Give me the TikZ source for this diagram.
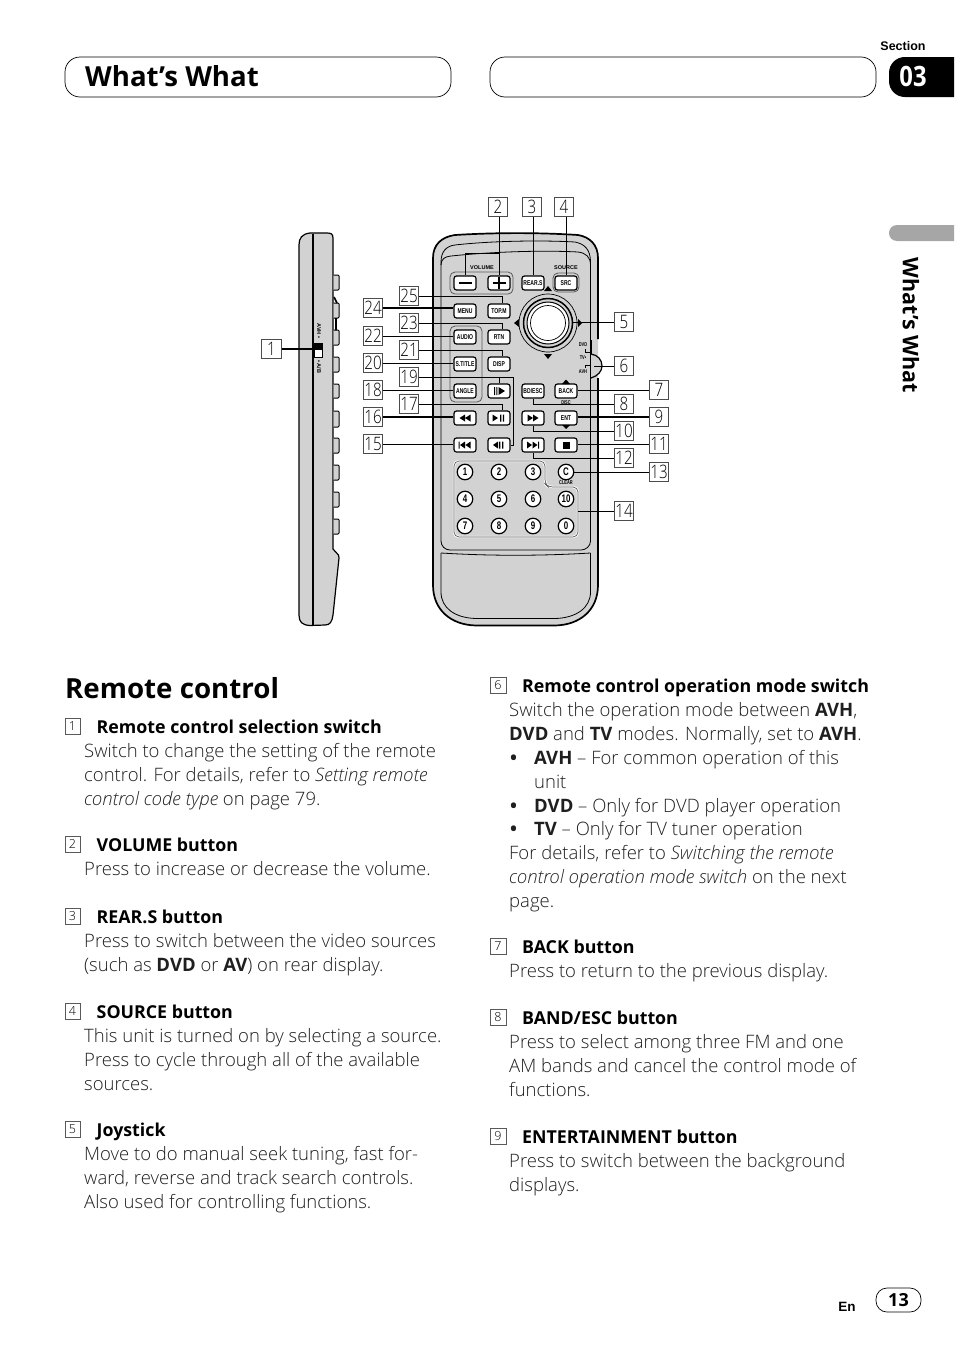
\documentclass[tikz,border=0pt]{standalone}
\usepackage{fontspec}
\setmainfont{Open Sans}[UprightFont=* Light,ItalicFont=* Light Italic,BoldFont=* Bold,BoldItalicFont=* Bold Italic]
\newfontfamily\boldf{Open Sans}[UprightFont=* Bold]
\newfontfamily\cond{Liberation Sans}[BoldFont=*,UprightFont=* Bold]
\usetikzlibrary{calc}
\definecolor{body}{HTML}{D2D2D2}
\newcounter{tln}
\newcommand{\tl}[3]{\stepcounter{tln}\node[txt,name=t\arabic{tln}] at (#1,#2+1) {#3};}
\newcommand{\hl}[4]{\stepcounter{tln}\node[nbox,name=n\arabic{tln}] at (#1,#2-6) {#3};\node[txt,font=\boldf\fontsize{17.8}{19}\selectfont,text=black,name=t\arabic{tln}] at (#1+24,#2+1) {#4};}
\newcommand{\bt}[1]{\scalebox{.72}[1]{#1}}
\tikzset{
 txt/.style={anchor=base west,inner sep=0pt,font=\fontsize{18.5}{19}\selectfont,text=black!88},
 nbox/.style={draw=black!65,line width=.5pt,minimum width=15.5pt,minimum height=15.5pt,inner sep=0pt,font=\fontsize{12.5}{12}\selectfont},
 lab/.style={draw=black!70,line width=.6pt,fill=white,minimum width=19.5pt,minimum height=19.5pt,inner sep=0pt,font=\fontsize{18.5}{19}\selectfont},
 btn/.style={draw=black,line width=1.2pt,rounded corners=2.5pt,fill=white,minimum width=22pt,minimum height=14pt,inner sep=0pt,font=\cond\fontsize{7}{7}\selectfont},
 num/.style={circle,draw=black,line width=1.2pt,fill=white,minimum size=15.5pt,inner sep=0pt,font=\cond\fontsize{11}{11}\selectfont},
 con/.style={draw=black,line width=.8pt},
 conb/.style={draw=black,line width=1.6pt},
 grp/.style={draw=black!65,line width=.8pt,rounded corners=5pt},
 rl/.style={draw=black,line width=.8pt},
 tiny/.style={inner sep=0pt,font=\cond\fontsize{5.5}{5}\selectfont},
 tri/.style={fill=black,draw=none},
}
\begin{document}
\begin{tikzpicture}[x=1pt,y=-1pt]
\useasboundingbox (0,0) rectangle (954,1352);
% header
\draw[line width=.7pt,rounded corners=15pt] (65,57) rectangle (451,97);
\draw[line width=.7pt,rounded corners=15pt] (490,57) rectangle (876,97);
\node[anchor=base west,inner sep=0pt,font=\boldf\fontsize{27.6}{28}\selectfont] (title) at (85,86) {What’s What};
\node[inner sep=0pt,font=\cond\fontsize{12.5}{13}\selectfont] (sect) at (903,46) {Section};
\fill[black] (954,57) -- (905,57) .. controls (896,57) and (889,64) .. (889,73) -- (889,81) .. controls (889,90) and (896,97) .. (905,97) -- (954,97) -- cycle;
\node[text=white,inner sep=0pt,font=\boldf\fontsize{28}{28}\selectfont] (secnum) at (913,76) {\scalebox{.85}[1]{03}};
\fill[black!35] (954,225) -- (897,225) .. controls (892,225) and (889,229) .. (889,233) .. controls (889,237) and (892,241) .. (897,241) -- (954,241) -- cycle;
\node[rotate=-90,inner sep=0pt,font=\boldf\fontsize{21.5}{22}\selectfont] (sidetitle) at (911,325.5) {What’s What};
% side view
\filldraw[fill=body,draw=black,line width=1.2pt] (333,238) .. controls (333,234) and (331,233) .. (327,233) -- (310,233) .. controls (302,234) and (299,238) .. (299,245) -- (299,615) .. controls (299,622) and (302,625) .. (310,625.5) -- (325,625) .. controls (330,625) and (332,622) .. (333,615) -- (339,558) -- (338.5,555) -- (333,549) -- cycle;
\draw[line width=1.2pt] (313,234) -- (313,625);
\foreach \ya/\yb in {275/290,303/318,330/345,357/372,384/398,411/427,438/453,465/480,492/507,519/534}{
 \filldraw[fill=body,draw=black,line width=1pt,rounded corners=1pt] (333.5,\ya) -- (339,\ya) -- (339,\yb) -- (333.5,\yb);}
\draw[line width=1.6pt] (334,297) -- (337,303) (336,318) -- (336,330);
\node[rotate=-90,tiny] (sideA) at (319,331) {AVH •};
\node[rotate=-90,tiny] (sideB) at (319,367) {• A/B};
\filldraw[fill=white,draw=black,line width=.7pt] (314,343) rectangle (322,357);
\fill[black] (314,343) rectangle (322,350);
\coordinate (swi) at (314,349);
% remote
\fill[body] (433,258) .. controls (433,245) and (441,237) .. (455,235) .. controls (495,232.5) and (540,232.5) .. (578,235) .. controls (590,237) and (598,245) .. (598,258) -- (598,585) .. controls (598,610) and (580,625) .. (555,625.5) -- (476,625.5) .. controls (451,625) and (433,610) .. (433,585) -- cycle;
\draw[draw=black,line width=1.7pt] (598,339) -- (598,258) .. controls (598,245) and (590,237) .. (578,235) .. controls (540,232.5) and (495,232.5) .. (455,235) .. controls (441,237) and (433,245) .. (433,258) -- (433,585) .. controls (433,610) and (451,625) .. (476,625.5) -- (555,625.5) .. controls (580,625) and (598,610) .. (598,585) -- (598,378);
\draw[rl] (441,541) -- (441,262) .. controls (441,252) and (446,246) .. (455,245) .. controls (490,241) and (540,240) .. (575,242) .. controls (585,244) and (590.5,250) .. (590.5,262) -- (590.5,340);
\draw[rl] (441,265) .. controls (441,259) and (445,256.5) .. (451,256) .. controls (490,252) and (540,250) .. (578,252) .. controls (586,253) and (590.5,257) .. (590.5,265);
\draw[rl] (590.5,378) -- (590.5,541);
\draw[rl] (441,541) .. controls (441,546) and (445,550) .. (450,550) -- (581,550) .. controls (586,550) and (590.5,546) .. (590.5,541);
\draw[rl] (441,553) .. controls (490,556) and (541,556) .. (590.5,553);
\draw[rl] (441,553) -- (441,592) .. controls (441,608) and (455,618) .. (476,618.5) -- (555,618.5) .. controls (576,618) and (590.5,608) .. (590.5,592) -- (590.5,553);
% mode switch
\draw[line width=1.6pt] (591,340) -- (591,378);
\filldraw[fill=body,draw=black,line width=1.2pt] (591,354) .. controls (598,355) and (602,360) .. (602,366) .. controls (602,371) and (598,376) .. (591,378);
\coordinate (msw) at (594,366);
\node[tiny] (mdvd) at (583,345) {\bt{DVD}};
\node[tiny] (mtv) at (583,358) {\bt{TV•}};
\node[tiny] (mavh) at (583,372) {\bt{AVH}};
\draw[line width=.5pt] (585,349) -- (585,352) -- (591,352) (585,368) -- (585,365) -- (591,365);
% groups
\draw[grp] (450,272) rectangle (513,294);
\draw[grp] (553,273) rectangle (579,292);
\draw[grp] (450,326) rectangle (482,402);
\node[tiny] (tvol) at (482,267.5) {VOLUME};
\node[tiny] (tsrc) at (566,267.5) {SOURCE};
% buttons
\node[btn] (minus) at (465,283) {\rule{13pt}{1.6pt}};
\node[btn] (plus) at (499,283) {\rule{13pt}{1.6pt}\llap{\rule[-5pt]{1.6pt}{11.6pt}\kern5.7pt}};
\node[btn] (rear) at (533,283) {\bt{REAR.S}};
\node[btn] (src) at (566,283) {\bt{SRC}};
\node[btn] (menu) at (465,311) {\bt{MENU}};
\node[btn] (topm) at (499,311) {\bt{TOP.M}};
\node[btn] (audio) at (465,337) {\bt{AUDIO}};
\node[btn] (rtn) at (499,337) {\bt{RTN}};
\node[btn] (stitle) at (465,364) {\bt{S.TITLE}};
\node[btn] (disp) at (499,364) {\bt{DISP}};
\node[btn] (angle) at (465,391) {\bt{ANGLE}};
\node[btn] (slowf) at (499,391) {};
\node[btn] (bdesc) at (533,391) {\bt{BD/ESC}};
\node[btn] (back) at (566,391) {\bt{BACK}};
\node[btn] (rew) at (465,418) {};
\node[btn] (play) at (499,418) {};
\node[btn] (ffw) at (533,418) {};
\node[btn] (ent) at (566,418) {\bt{ENT}};
\node[btn] (prev) at (465,445) {};
\node[btn] (slowb) at (499,445) {};
\node[btn] (next) at (533,445) {};
\node[btn] (stopb) at (566,445) {};
% button glyphs
\fill[tri] (494,387) rectangle (495,395) (496.3,387) rectangle (497.3,395) (498.5,387) -- (505,391) -- (498.5,395) -- cycle;
\fill[tri] (465,414.5) -- (459.5,418) -- (465,421.5) -- cycle (470.5,414.5) -- (465,418) -- (470.5,421.5) -- cycle;
\fill[tri] (492.5,414.5) -- (498,418) -- (492.5,421.5) -- cycle (500,414.5) rectangle (501.3,421.5) (502.8,414.5) rectangle (504.1,421.5);
\fill[tri] (527.5,414.5) -- (533,418) -- (527.5,421.5) -- cycle (533,414.5) -- (538.5,418) -- (533,421.5) -- cycle;
\fill[tri] (458.5,441.5) rectangle (459.7,448.5) (465,441.5) -- (460,445) -- (465,448.5) -- cycle (470.5,441.5) -- (465.5,445) -- (470.5,448.5) -- cycle;
\fill[tri] (498,441.5) -- (493,445) -- (498,448.5) -- cycle (499,441.5) rectangle (500.3,448.5) (502,441.5) rectangle (503.3,448.5);
\fill[tri] (527,441.5) -- (532,445) -- (527,448.5) -- cycle (532.5,441.5) -- (537.5,445) -- (532.5,448.5) -- cycle (538,441.5) rectangle (539.2,448.5);
\fill[tri] (562.5,441.5) rectangle (569.5,448.5);
% direction marks
\fill[tri] (566,379.5) -- (562,384) -- (570,384) -- cycle;
\fill[tri] (566,429) -- (562,425) -- (570,425) -- cycle;
\node[tiny] (tdisp) at (566,402.5) {\bt{DISC}};
% joystick
\fill[tri] (548,286) -- (544,291) -- (552,291) -- cycle (548,359) -- (544,354) -- (552,354) -- cycle (514,323) -- (519,319) -- (519,327) -- cycle (582,323) -- (578,319) -- (578,327) -- cycle;
\draw[line width=.7pt] (548,323) circle[radius=29];
\draw[line width=1.5pt] (548,323) circle[radius=24.5];
\filldraw[fill=white,draw=black,line width=1pt] (548,323) circle[radius=21];
\draw[line width=.7pt] (548,323) circle[radius=17.5];
\coordinate (joy) at (572.5,323);
% number panel
\draw[draw=white,line width=2.4pt,rounded corners=5pt] (454,461) -- (545,461) -- (545,484) -- (548,487) -- (578,487) -- (578,537) -- (454,537) -- cycle;
\draw[grp,line width=.7pt,rounded corners=5pt] (454,461) -- (545,461) -- (545,484) -- (548,487) -- (578,487) -- (578,537) -- (454,537) -- cycle;
\coordinate (pan) at (578,511);
\node[num] (b1) at (465,472) {\bt{1}};
\node[num] (b2) at (499,472) {\bt{2}};
\node[num] (b3) at (533,472) {\bt{3}};
\node[num] (bc) at (566,472) {\bt{C}};
\node[num] (b4) at (465,499) {\bt{4}};
\node[num] (b5) at (499,499) {\bt{5}};
\node[num] (b6) at (533,499) {\bt{6}};
\node[num] (b10) at (566,499) {\bt{10}};
\node[num] (b7) at (465,526) {\bt{7}};
\node[num] (b8) at (499,526) {\bt{8}};
\node[num] (b9) at (533,526) {\bt{9}};
\node[num] (b0) at (566,526) {\bt{0}};
\node[tiny] (tclr) at (566,483) {\bt{CLEAR}};
% labels
\foreach \n/\x/\y in {1/271.5/349,2/498/207,3/532/207,4/564/207,5/624/322,6/624/366,7/659/390,8/624/404,9/659/417,10/624/431,11/659/444,12/624/458,13/659/472,14/624/511,25/409/296,24/373/308,23/409/323,22/373/336,21/409/350,20/373/363,19/409/377,18/373/390,17/409/404,16/373/417,15/373/444}
 \node[lab] (l\n) at (\x,\y) {\scalebox{.82}[1]{\n}};
% connectors
\draw[conb] (l1) -- (swi);
\coordinate (jv) at (499,253);
\draw[con] (l2.south -| plus.north) -- (plus.north);
\draw[con] (jv) -| (minus.north);
\draw[con] (l3.south -| rear.north) -- (rear.north);
\draw[con] (l4.south -| src.north) -- (src.north);
\draw[con] (l5.west) -- (l5.west -| joy);
\draw[con] (l6.west) -- (msw);
\draw[con] (l7.west) -- (l7.west -| back.east);
\draw[con] (l8.west) -| (bdesc.south);
\draw[conb] (l9.west) -- (l9.west -| ent.east);
\draw[con] (l10.west) -| (ffw.south);
\draw[con] (l11.west) -- (l11.west -| stopb.east);
\draw[con] (l12.west) -| (next.south);
\draw[con] (l13.west) -- (l13.west -| bc.east);
\draw[con] (l14.west) -- (pan);
\coordinate (x25) at (502,296);
\draw[con] (l25.east) -| (x25 |- topm.north);
\draw[conb] (l24.east) -- (l24.east -| menu.west);
\draw[con] (l23.east) -| (x25 |- rtn.north);
\draw[con] (l22.east) -- (l22.east -| audio.west);
\draw[con] (l21.east) -| (x25 |- disp.north);
\draw[con] (l20.east) -- (l20.east -| stitle.west);
\coordinate (x19) at (513,377);
\draw[con] (l19.east) -- (x19) |- (slowb.east);
\draw[con] (slowf.north |- x19) -- (slowf.north);
\draw[con] (l18.east) -- (l18.east -| angle.west);
\draw[con] (l17.east) -| (x25 |- play.north);
\draw[conb] (l16.east) -- (l16.east -| rew.west);
\draw[con] (l15.east) -- (l15.east -| prev.west);
% heading
\node[anchor=base west,inner sep=0pt,font=\boldf\fontsize{27.7}{28}\selectfont] (rc) at (65,698) {Remote control};
% left column
\hl{72.5}{732}{1}{Remote control selection switch}
\tl{84}{756}{Switch to change the setting of the remote}
\tl{84}{780}{control. For details, refer to \textit{Setting remote}}
\tl{84}{804}{\textit{control code type} on page 79.}
\hl{72.5}{850}{2}{VOLUME button}
\tl{84}{874}{Press to increase or decrease the volume.}
\hl{72.5}{922}{3}{REAR.S button}
\tl{84}{946}{Press to switch between the video sources}
\tl{84}{970}{(such as \textbf{DVD} or \textbf{AV}) on rear display.}
\hl{72.5}{1017}{4}{SOURCE button}
\tl{84}{1041}{This unit is turned on by selecting a source.}
\tl{84}{1065}{Press to cycle through all of the available}
\tl{84}{1089}{sources.}
\hl{72.5}{1135}{5}{Joystick}
\tl{84}{1159}{Move to do manual seek tuning, fast for-}
\tl{84}{1183}{ward, reverse and track search controls.}
\tl{84}{1207}{Also used for controlling functions.}
% right column
\hl{498}{691}{6}{Remote control operation mode switch}
\tl{509}{715}{Switch the operation mode between \textbf{AVH},}
\tl{509}{739}{\textbf{DVD} and \textbf{TV} modes. Normally, set to \textbf{AVH}.}
\tl{510}{763}{\textbf{•}}\tl{534}{763}{\textbf{AVH} – For common operation of this}
\tl{534}{787}{unit}
\tl{510}{811}{\textbf{•}}\tl{534}{811}{\textbf{DVD} – Only for DVD player operation}
\tl{510}{834}{\textbf{•}}\tl{534}{834}{\textbf{TV} – Only for TV tuner operation}
\tl{509}{858}{For details, refer to \textit{Switching the remote}}
\tl{509}{882}{\textit{control operation mode switch} on the next}
\tl{509}{906}{page.}
\hl{498}{952}{7}{BACK button}
\tl{509}{976}{Press to return to the previous display.}
\hl{498}{1023}{8}{BAND/ESC button}
\tl{509}{1047}{Press to select among three FM and one}
\tl{509}{1071}{AM bands and cancel the control mode of}
\tl{509}{1095}{functions.}
\hl{498}{1142}{9}{ENTERTAINMENT button}
\tl{509}{1166}{Press to switch between the background}
\tl{509}{1190}{displays.}
% footer
\node[inner sep=0pt,font=\cond\fontsize{13.5}{14}\selectfont] (en) at (847,1307) {En};
\node[draw=black,line width=.7pt,rounded corners=11pt,minimum width=45pt,minimum height=24pt,inner sep=0pt,font=\boldf\fontsize{18}{18}\selectfont] (pg) at (898.5,1300) {13};
\end{tikzpicture}
\end{document}
